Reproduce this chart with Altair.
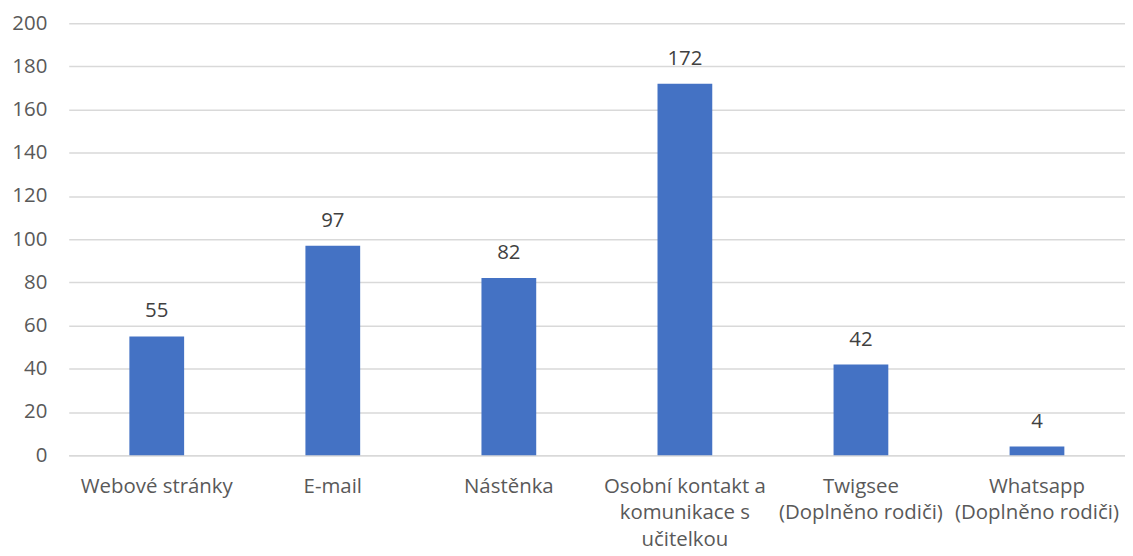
import altair as alt
import pandas as pd

categories = [
    "Webové stránky",
    "E-mail",
    "Nástěnka",
    "Osobní kontakt a\nkomunikace s\nučitelkou",
    "Twigsee\n(Doplněno rodiči)",
    "Whatsapp\n(Doplněno rodiči)",
]
values = [55, 97, 82, 172, 42, 4]
y_ticks = [0, 20, 40, 60, 80, 100, 120, 140, 160, 180, 200]

df = pd.DataFrame({"cat": categories, "val": values})

FONT = "Open Sans"
FS = 20.5

x = alt.X(
    "cat:N",
    sort=categories,
    title=None,
    scale=alt.Scale(paddingInner=0, paddingOuter=0),
    axis=alt.Axis(
        labelAngle=0,
        labelExpr="split(datum.label, '\\n')",
        labelFont=FONT,
        labelFontSize=FS,
        labelColor="#595959",
        labelLineHeight=27,
        labelPadding=21,
        ticks=False,
        domainColor="#d9d9d9",
        domainWidth=1.5,
        labelLimit=300,
    ),
)

bars = alt.Chart(df).mark_bar(color="#4472C4", size=55).encode(
    x=x,
    y=alt.Y(
        "val:Q",
        title=None,
        scale=alt.Scale(domain=[0, 200], nice=False),
        axis=alt.Axis(
            values=y_ticks,
            labelFont=FONT,
            labelFontSize=FS,
            labelColor="#595959",
            labelPadding=22,
            ticks=False,
            domain=False,
            gridColor="#d9d9d9",
            gridWidth=1.5,
        ),
    ),
)

text = alt.Chart(df).mark_text(
    dy=-15, baseline="bottom", font=FONT, fontSize=FS, color="#404040"
).encode(
    x=alt.X("cat:N", sort=categories),
    y="val:Q",
    text="val:Q",
)

chart = (
    alt.layer(bars, text)
    .properties(
        width=1061,
        height=434,
        autosize=alt.AutoSizeParams(type="none"),
        padding={"left": 61, "top": 14, "right": 0, "bottom": 100},
    )
    .configure_view(stroke=None)
)

chart.save("out.html", embed_options={"renderer": "svg", "actions": False})
